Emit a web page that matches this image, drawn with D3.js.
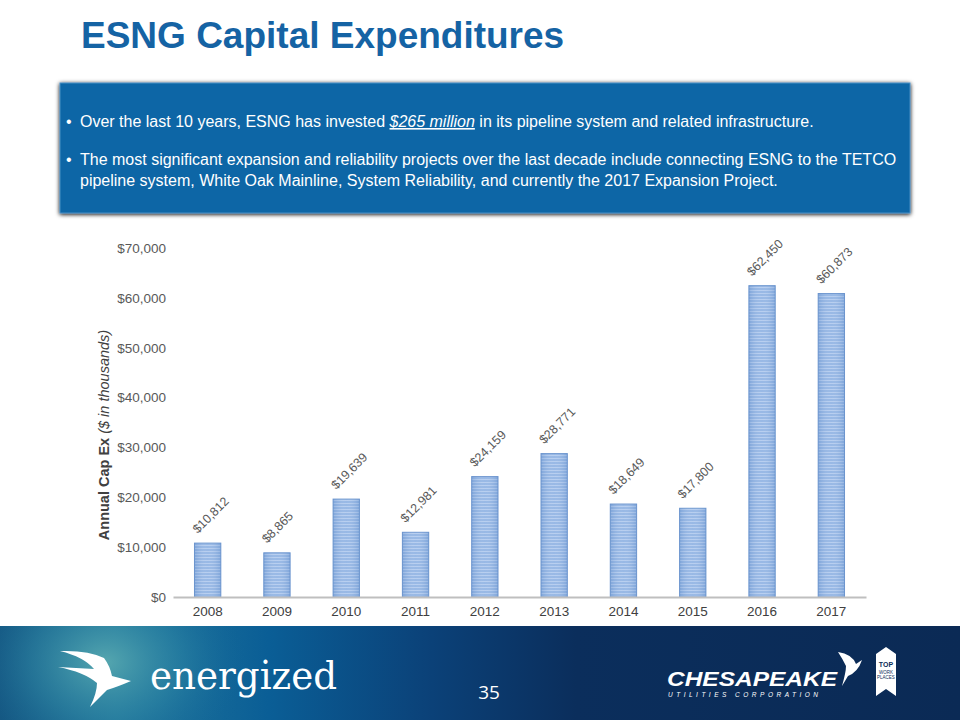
<!DOCTYPE html>
<html><head><meta charset="utf-8">
<script src="https://cdn.jsdelivr.net/npm/d3@7"></script>
<style>body{margin:0;background:#fff}svg{display:block}</style>
</head><body>
<svg id="c" width="960" height="720"></svg>
<script>
const years = ["2008","2009","2010","2011","2012","2013","2014","2015","2016","2017"];
const capex = [10812, 8865, 19639, 12981, 24159, 28771, 18649, 17800, 62450, 60873];
const yTicks = [0, 10000, 20000, 30000, 40000, 50000, 60000, 70000];

const svg = d3.select("#c");
const defs = svg.append("defs");
const font = "Arial, 'Liberation Sans', sans-serif";

// stripe pattern
const pat = defs.append("pattern").attr("id","stripe").attr("patternUnits","userSpaceOnUse")
  .attr("width",4).attr("height",3);
pat.append("rect").attr("width",4).attr("height",3).attr("fill","#93b5e4");
pat.append("rect").attr("width",4).attr("height",1).attr("y",2).attr("fill","#b4ccef");
const hg = defs.append("linearGradient").attr("id","barshade").attr("x1",0).attr("x2",1);
hg.append("stop").attr("offset","0").attr("stop-color","#4f7fc0").attr("stop-opacity",0.3);
hg.append("stop").attr("offset","0.5").attr("stop-color","#ffffff").attr("stop-opacity",0.05);
hg.append("stop").attr("offset","1").attr("stop-color","#4f7fc0").attr("stop-opacity",0.3);

// footer gradients
const lg = defs.append("linearGradient").attr("id","footlin").attr("x1",0).attr("x2",1);
[["0","#15557f"],["0.12","#23779a"],["0.28","#0a5e96"],["0.45","#0b4178"],["0.6","#0b2e5c"],["1","#0b2a55"]]
  .forEach(s=>lg.append("stop").attr("offset",s[0]).attr("stop-color",s[1]));
const rg = defs.append("radialGradient").attr("id","glow").attr("gradientUnits","userSpaceOnUse")
  .attr("cx",105).attr("cy",662).attr("r",150).attr("gradientTransform","translate(105,662) scale(1,0.75) translate(-105,-662)");
rg.append("stop").attr("offset","0").attr("stop-color","#58a9b0").attr("stop-opacity",0.95);
rg.append("stop").attr("offset","0.5").attr("stop-color","#2f88a6").attr("stop-opacity",0.5);
rg.append("stop").attr("offset","1").attr("stop-color","#0a5e96").attr("stop-opacity",0);

const shadow = defs.append("filter").attr("id","sh").attr("x","-5%").attr("y","-10%").attr("width","110%").attr("height","130%");
shadow.append("feGaussianBlur").attr("in","SourceAlpha").attr("stdDeviation",2);
shadow.append("feOffset").attr("dy",1).attr("result","b");
const fm = shadow.append("feMerge"); fm.append("feMergeNode").attr("in","b"); fm.append("feMergeNode").attr("in","SourceGraphic");

// Title
svg.append("text").attr("x",81).attr("y",48).attr("font-family",font).attr("font-weight","bold")
  .attr("font-size",37).attr("fill","#1563a4").text("ESNG Capital Expenditures");

// Blue box
svg.append("rect").attr("x",60).attr("y",83).attr("width",850).attr("height",130)
  .attr("fill","#0766a6").attr("stroke","#4f8fc4").attr("stroke-width",1).attr("filter","url(#sh)");
const tb = svg.append("g").attr("font-family",font).attr("font-size",16).attr("fill","#fff");
tb.append("text").attr("x",66).attr("y",127).text("•");
const t1 = tb.append("text").attr("x",80).attr("y",127);
t1.append("tspan").text("Over the last 10 years, ESNG has invested ");
t1.append("tspan").attr("font-style","italic").attr("text-decoration","underline").text("$265 million");
t1.append("tspan").text(" in its pipeline system and related infrastructure.");
tb.append("text").attr("x",66).attr("y",165).text("•");
tb.append("text").attr("x",80).attr("y",165).text("The most significant expansion and reliability projects over the last decade include connecting ESNG to the TETCO");
tb.append("text").attr("x",80).attr("y",186).text("pipeline system, White Oak Mainline, System Reliability, and currently the 2017 Expansion Project.");

// Chart
const x = d3.scaleBand().domain(years).range([173, 866]).paddingInner(0.62).paddingOuter(0.31);
const y = d3.scaleLinear().domain([0,70000]).range([597, 248]);

const gy = svg.append("g").attr("transform","translate(166,0)")
  .call(d3.axisLeft(y).tickValues(yTicks).tickSize(0).tickPadding(0).tickFormat(d=>"$"+d3.format(",")(d)));
gy.select(".domain").remove();
gy.selectAll("text").attr("font-family",font).attr("font-size",13.5).attr("fill","#595959");

const bars = svg.append("g");
bars.selectAll("rect.b").data(years).join("rect").attr("class","b")
  .attr("x",d=>x(d)).attr("width",x.bandwidth())
  .attr("y",(d,i)=>y(capex[i])).attr("height",(d,i)=>y(0)-y(capex[i]))
  .attr("fill","url(#stripe)").attr("stroke","#7098d0").attr("stroke-width",1);
bars.selectAll("rect.s").data(years).join("rect").attr("class","s")
  .attr("x",d=>x(d)).attr("width",x.bandwidth())
  .attr("y",(d,i)=>y(capex[i])).attr("height",(d,i)=>y(0)-y(capex[i]))
  .attr("fill","url(#barshade)");

const gx = svg.append("g").attr("transform","translate(0,597)")
  .call(d3.axisBottom(x).tickSize(0).tickPadding(9));
gx.select(".domain").attr("stroke","#bfbfbf").attr("stroke-width",2);
gx.selectAll("text").attr("font-family",font).attr("font-size",13.5).attr("fill","#404040");

// data labels
svg.append("g").selectAll("text").data(years).join("text")
  .attr("transform",(d,i)=>`translate(${x(d)+x.bandwidth()/2-10},${y(capex[i])-9}) rotate(-45)`)
  .attr("font-family",font).attr("font-size",12.5).attr("fill","#595959")
  .text((d,i)=>"$"+d3.format(",")(capex[i]));

// y axis title
const yt = svg.append("text").attr("transform","translate(109,435) rotate(-90)").attr("text-anchor","middle")
  .attr("font-family",font).attr("font-size",14.5).attr("fill","#404040");
yt.append("tspan").attr("font-weight","bold").text("Annual Cap Ex ");
yt.append("tspan").attr("font-style","italic").text("($ in thousands)");

// Footer
svg.append("rect").attr("x",0).attr("y",626).attr("width",960).attr("height",94).attr("fill","url(#footlin)");
svg.append("rect").attr("x",0).attr("y",626).attr("width",960).attr("height",94).attr("fill","url(#glow)");
// left bird logo
svg.append("path").attr("d","M60,651 Q88,650 104,658 Q110,666 112,676 L131,681 Q117,687 107,690 L90,707 Q97,693 97,683 Q84,672 58,667 L94,669 Q84,657 60,651 Z").attr("fill","#fff");
svg.append("text").attr("x",150).attr("y",689).attr("font-family","'DejaVu Serif', serif").attr("font-size",40)
  .attr("fill","#fff").attr("textLength",187).attr("lengthAdjust","spacingAndGlyphs").text("energized");
svg.append("text").attr("x",489).attr("y",699).attr("text-anchor","middle").attr("font-family","'Open Sans', sans-serif")
  .attr("font-size",19).attr("fill","#fff").text("35");
// Chesapeake logo
svg.append("text").attr("x",667).attr("y",686).attr("font-family",font).attr("font-weight","900").attr("font-style","italic")
  .attr("font-size",20).attr("fill","#fff").attr("textLength",170).attr("lengthAdjust","spacingAndGlyphs").text("CHESAPEAKE");
svg.append("text").attr("x",668).attr("y",697).attr("font-family",font).attr("font-style","italic")
  .attr("font-size",6.5).attr("fill","#fff").attr("textLength",150).text("UTILITIES   CORPORATION");
svg.append("path").attr("d","M838,652 Q852,654 856,664 L862,660 Q858,672 848,676 L842,686 Q846,672 846,666 Q842,658 838,652 Z").attr("fill","#fff");
// badge
svg.append("path").attr("d","M876,654 L886,647 L896,654 L896,696 L886,689 L876,696 Z").attr("fill","#fff");
svg.append("text").attr("x",886).attr("y",667).attr("text-anchor","middle").attr("font-family",font).attr("font-weight","bold")
  .attr("font-size",7).attr("fill","#0b2b57").text("TOP");
svg.append("text").attr("x",886).attr("y",674).attr("text-anchor","middle").attr("font-family",font)
  .attr("font-size",4.5).attr("fill","#0b2b57").text("WORK");
svg.append("text").attr("x",886).attr("y",679).attr("text-anchor","middle").attr("font-family",font)
  .attr("font-size",4.5).attr("fill","#0b2b57").text("PLACES");
</script>
</body></html>
